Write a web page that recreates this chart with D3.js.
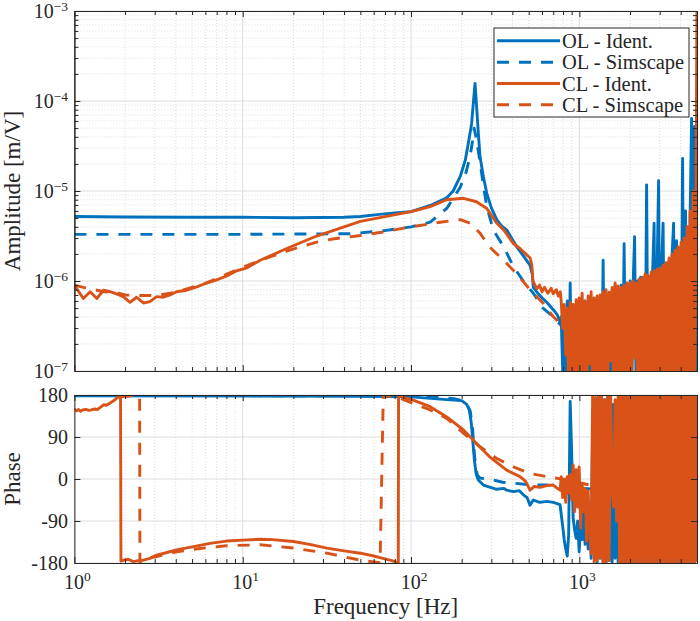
<!DOCTYPE html>
<html><head><meta charset="utf-8">
<script src="https://cdn.jsdelivr.net/npm/d3@7"></script>
<style>
body{margin:0;background:#fff}
svg{display:block}
text{font-family:"Liberation Serif","Times New Roman",serif;fill:#262626}
</style>
</head><body>
<svg id="chart" width="700" height="621"></svg>
<script>
// ---------------- data ----------------
const seriesNames = ["OL - Ident.", "OL - Simscape", "CL - Ident.", "CL - Simscape"];
const xTickValues = [1, 10, 100, 1000];
const xTickExps = ["0", "1", "2", "3"];
const ampTickValues = [1e-3, 1e-4, 1e-5, 1e-6, 1e-7];
const ampTickExps = ["\u22123", "\u22124", "\u22125", "\u22126", "\u22127"];
const phaseTickValues = [180, 90, 0, -90, -180];
const phaseTickLabels = ["180", "90", "0", "-90", "-180"];

// amplitude [f, |G|]
const olIdentMag = [[1,5.2e-6],[2,5.15e-6],[5,5.1e-6],[10,5.1e-6],[20,5.05e-6],[40,5.1e-6],[50,5.2e-6],[65,5.5e-6],[80,5.7e-6],[100,5.9e-6],[130,6.9e-6],[163,8.4e-6],[178,1.0e-5],[196,1.45e-5],[210,2.2e-5],[219,3.4e-5],[229,5.6e-5],[235,1.0e-4],[240,1.57e-4],[246,7.9e-5],[251,4.4e-5],[257,2.4e-5],[269,1.45e-5],[282,9.4e-6],[300,6.5e-6],[323,4.8e-6],[345,4.1e-6],[370,3.7e-6],[400,2.9e-6],[425,2.4e-6],[465,1.9e-6],[509,1.5e-6],[525,1.2e-6],[533,8.5e-7],[560,7.5e-7],[600,6.5e-7],[640,5.8e-7],[700,4.8e-7],[740,4.2e-7],[768,3.5e-7]];
const olSimMag = [[1,3.3e-6],[10,3.3e-6],[43,3.35e-6],[68,3.6e-6],[100,4.0e-6],[130,4.5e-6],[163,6.4e-6],[196,1.1e-5],[212,1.6e-5],[224,2.4e-5],[232,3.6e-5],[237,5.0e-5],[243,4.0e-5],[250,2.9e-5],[257,2.1e-5],[270,1.1e-5],[282,6.7e-6],[308,3.7e-6],[355,2.4e-6],[406,1.44e-6],[465,1.0e-6],[533,7.3e-7],[608,5.0e-7],[700,4.0e-7],[780,3.2e-7]];
const clIdentMag = [[1.0,9e-7],[1.13,6.4e-7],[1.24,7.6e-7],[1.36,6.4e-7],[1.49,7.9e-7],[1.63,7.6e-7],[1.78,7.2e-7],[1.95,6.7e-7],[2.14,5.8e-7],[2.34,6.6e-7],[2.57,5.7e-7],[2.81,5.9e-7],[3.08,6.7e-7],[3.37,6.6e-7],[3.70,7.0e-7],[4.05,7.6e-7],[4.65,7.9e-7],[5.33,8.6e-7],[6.11,9.5e-7],[7.01,1.03e-6],[8.04,1.14e-6],[9.22,1.3e-6],[10.6,1.4e-6],[12.7,1.7e-6],[19,2.37e-6],[27.5,3.16e-6],[50,4.6e-6],[100,5.9e-6],[130,6.7e-6],[163,8.0e-6],[205,8.3e-6],[245,7.6e-6],[282,6.4e-6],[323,4.4e-6],[355,3.7e-6],[406,2.6e-6],[444,2.3e-6],[480,2.0e-6],[510,1.8e-6],[522,1.5e-6],[530,1.0e-6],[545,9e-7],[560,8.2e-7],[580,9e-7],[600,7.6e-7],[620,8.5e-7],[650,7.3e-7],[680,8.3e-7],[700,7.2e-7],[730,8e-7],[750,6.8e-7],[770,7.6e-7]];
const clSimMag = [[1,9e-7],[1.13,8.5e-7],[1.5,7.6e-7],[1.8,7.4e-7],[2.0,7.0e-7],[2.35,6.9e-7],[2.7,6.9e-7],[3.1,6.9e-7],[4,7.5e-7],[6,9.4e-7],[10,1.42e-6],[14.5,1.85e-6],[19,2.2e-6],[27.5,2.7e-6],[35,2.95e-6],[50,3.2e-6],[68,3.5e-6],[100,4.0e-6],[149,4.5e-6],[196,4.8e-6],[224,4.4e-6],[257,3.4e-6],[292,2.4e-6],[355,1.7e-6],[425,1.2e-6],[509,8e-7],[608,5.7e-7],[700,4e-7],[780,3.3e-7]];

// phase [f, deg]
const olIdentPh = [[1,178.5],[10,178],[50,177],[100,176],[163,170],[200,168],[214,160],[222,148],[228,120],[233,80],[238,40],[244,10],[251,-2],[269,-13],[323,-22],[355,-20],[370,-24],[406,-27],[440,-25],[465,-34],[490,-40],[509,-56],[533,-45],[580,-50],[640,-48],[700,-50],[768,-55]];
const olSimPh = [[1,179.5],[50,178],[100,177],[150,175],[180,172],[200,168],[215,160],[225,145],[232,110],[237,60],[242,25],[248,8],[257,2],[290,0],[350,-7],[406,-9],[500,-12],[640,-13],[768,-16],[1000,-20],[1300,-22]];
const clIdentPh = [[1,150],[1.03,146],[1.06,149],[1.09,145],[1.12,148],[1.17,149],[1.22,147],[1.26,148],[1.32,150],[1.37,149],[1.42,153],[1.49,159],[1.55,158],[1.63,163],[1.7,167],[1.78,173],[1.84,176],[1.88,179.5],[1.89,-176],[1.95,-174],[2.09,-172],[2.24,-177],[2.4,-175],[2.57,-174],[2.81,-170],[3.08,-163],[3.5,-158],[4.05,-152],[5.1,-145],[6.4,-138],[8,-133],[10,-131],[12.7,-129],[15,-130],[20,-134],[25,-140],[31.6,-148],[40,-154],[50,-159],[60,-165],[68,-170],[77,-175],[84,-179.5],[84.3,180],[92,174],[103,169],[130,155],[163,133],[205,105],[245,76],[292,48],[370,19],[444,5],[480,-5],[509,-24],[540,-16],[583,-18],[640,-14],[700,-13],[740,-20],[770,-24]];
const clSimPh = [[1.9,176],[2.2,179],[2.44,179.8],[2.45,-179.5],[2.7,-171],[3.08,-166],[4.05,-156],[5.57,-149],[8,-143],[12.7,-141],[20,-148],[31.6,-159],[50,-174],[65.5,-179.5],[68.4,180],[86,173],[130,148],[163,130],[205,98],[257,69],[323,44],[406,26],[509,12],[640,5],[842,-2],[1000,-8],[1158,-13],[1300,-16]];

// high-frequency (noisy) part, shared frequency grid
const fHi = [780,796,813,830,847,864,882,900,919,938,957,977,997,1018,1039,1060,1082,1105,1128,1151,1175,1199,1224,1249,1275,1302,1329,1356,1384,1413,1442,1472,1503,1534,1566,1598,1631,1665,1699,1734,1770,1807,1845,1883,1922,1962,2002,2044,2086,2129,2174,2219,2265,2312,2359,2408,2458,2509,2561,2614,2668,2724,2780,2838,2897,2957,3018,3080,3144,3209,3276,3344,3413,3484,3556,3630,3705,3782,3860,3940,4022,4105,4190,4277,4366,4456,4549,4643,4739,4838,4938,5000];
const clIdentMagHi = [6.0e-7,3e-7,5.5e-7,1.5e-7,5.0e-7,6e-8,5.8e-7,8e-8,5.5e-7,5e-8,6.2e-7,7e-8,6.5e-7,5e-8,7.3e-7,9e-8,6e-7,5e-8,6.8e-7,1.2e-7,7.6e-7,5e-8,6.5e-7,5e-8,6.8e-7,6e-8,7e-7,5e-8,7.5e-7,6e-8,8e-7,5e-8,7.5e-7,1.3e-7,8.5e-7,5e-8,9.5e-7,5e-8,8.8e-7,6e-8,8.5e-7,5e-8,9e-7,5e-8,9.5e-7,6e-8,9.5e-7,5e-8,1.0e-6,1.4e-7,9.5e-7,5e-8,1.05e-6,5e-8,1.1e-6,5e-8,1.2e-6,6e-8,1.15e-6,5e-8,1.25e-6,5e-8,1.3e-6,6e-8,1.35e-6,5e-8,1.4e-6,5e-8,1.5e-6,5e-8,1.6e-6,6e-8,1.8e-6,5e-8,2.0e-6,5e-8,2.2e-6,5e-8,2.4e-6,5e-8,2.7e-6,5e-8,3.0e-6,6e-8,4.0e-6,5e-8,6e-6,5e-8,1e-5,5e-8,1.5e-5,1.5e-3];
const olIdentMagHi = [4e-7,1e-7,3e-7,5e-8,6e-7,5e-8,9.5e-7,6e-8,4e-7,5e-8,5e-7,5e-8,6e-7,5e-8,5e-7,5e-8,6e-7,5e-8,5e-7,5e-8,6e-7,5e-8,5e-7,5e-8,6e-7,5e-8,6e-7,5e-8,1.7e-6,5e-8,7e-7,5e-8,7e-7,5e-8,8e-7,5e-8,9e-7,5e-8,8e-7,5e-8,9e-7,5e-8,2.6e-6,5e-8,9e-7,5e-8,1e-6,5e-8,9e-7,3.1e-6,5e-8,1e-6,5e-8,1.1e-6,5e-8,1.1e-6,5e-8,1.17e-5,5e-8,1.1e-6,5e-8,1.2e-6,4.4e-6,5e-8,1.3e-6,1.3e-5,5e-8,1.4e-6,4.4e-6,5e-8,1.5e-6,5e-8,1.7e-6,5e-8,1.9e-6,4.4e-6,5e-8,2.8e-6,5e-8,2.3e-6,5e-8,2.3e-5,5e-8,6e-6,5e-8,5e-8,5e-6,6.4e-5,5e-8,5.2e-5,5e-8,5e-8];
const clIdentPhHi = [5,-40,0,-50,5,-30,10,-45,30,-70,20,-60,26,-105,-10,-70,-20,-134,-25,-110,-160,178,-178,175,-175,178,-170,178,-178,170,-178,178,-175,178,-20,-60,170,-90,180,-178,178,-178,178,-178,178,-178,178,-178,178,-178,178,-178,178,-178,178,-178,178,-178,178,-178,178,-178,178,-178,178,-178,178,-178,178,-178,178,-178,178,-178,178,-178,178,-178,178,-178,178,-178,178,-178,178,-178,178,-178,178,-178,178,-178];
const olIdentPhHi = [-75,-101,-130,-150,-165,-120,166,58,-84,-110,-127,-90,-156,-100,-130,-70,-140,-60,-150,-80,-170,120,-150,170,-178,175,-170,178,-178,170,-178,178,-175,178,-178,160,-170,150,-178,178,-178,178,-178,178,-178,178,-178,178,-178,178,-178,178,-178,178,-178,178,-178,178,-178,178,-178,178,-178,178,-178,178,-178,178,-178,178,-178,178,-178,178,-178,178,-178,178,-178,178,-178,178,-178,178,-178,178,-178,178,-178,178];

// ---------------- chart ----------------
const C_BLUE = "#0072BD", C_ORANGE = "#D95319", AX = "#262626";
const LW = 2.9, DASH = "12,10";
const svg = d3.select("#chart");
const left = 74.4, right = 697;
const topA = 11, botA = 371, topP = 395, botP = 563;

const x = d3.scaleLog().domain([1, 5000]).range([left, right]);
const yA = d3.scaleLog().domain([1e-7, 1e-3]).range([botA, topA]);
const yP = d3.scaleLinear().domain([-180, 180]).range([botP, topP]);

const withHi = (lo, hi) => lo.concat(fHi.map((f, i) => [f, hi[i]]));
const ampSeries = [
  {data: withHi(olIdentMag, olIdentMagHi), color: C_BLUE, dash: null},
  {data: olSimMag, color: C_BLUE, dash: DASH},
  {data: withHi(clIdentMag, clIdentMagHi), color: C_ORANGE, dash: null},
  {data: clSimMag, color: C_ORANGE, dash: DASH}
];
const phSeries = [
  {data: withHi(olIdentPh, olIdentPhHi), color: C_BLUE, dash: null},
  {data: olSimPh, color: C_BLUE, dash: DASH},
  {data: withHi(clIdentPh, clIdentPhHi), color: C_ORANGE, dash: null},
  {data: clSimPh, color: C_ORANGE, dash: DASH}
];

const xAll = x.ticks();
const xMinor = xAll.filter(v => !xTickValues.includes(v));

function panel(y, y0, y1, yMajor, yMinor, series, id) {
  const g = svg.append("g");
  g.selectAll(".mgx").data(xMinor).enter().append("line")
    .attr("x1", d => x(d)).attr("x2", d => x(d)).attr("y1", y0).attr("y2", y1)
    .attr("stroke", "#d2d2d2").attr("stroke-width", 0.8).attr("stroke-dasharray", "1,2");
  g.selectAll(".mgy").data(yMinor).enter().append("line")
    .attr("x1", left).attr("x2", right).attr("y1", d => y(d)).attr("y2", d => y(d))
    .attr("stroke", "#d2d2d2").attr("stroke-width", 0.8).attr("stroke-dasharray", "1,2");
  g.selectAll(".gx").data(xTickValues).enter().append("line")
    .attr("x1", d => x(d)).attr("x2", d => x(d)).attr("y1", y0).attr("y2", y1)
    .attr("stroke", "#dcdcdc").attr("stroke-width", 1);
  g.selectAll(".gy").data(yMajor).enter().append("line")
    .attr("x1", left).attr("x2", right).attr("y1", d => y(d)).attr("y2", d => y(d))
    .attr("stroke", "#dcdcdc").attr("stroke-width", 1);
  svg.append("clipPath").attr("id", id).append("rect")
    .attr("x", left).attr("y", y0).attr("width", right - left).attr("height", y1 - y0);
  const line = d3.line().x(d => x(d[0])).y(d => y(d[1]));
  const lg = g.append("g").attr("clip-path", `url(#${id})`);
  series.forEach(s => {
    lg.append("path").attr("d", line(s.data)).attr("fill", "none")
      .attr("stroke", s.color).attr("stroke-width", LW)
      .attr("stroke-linejoin", "round")
      .attr("stroke-dasharray", s.dash);
  });
  const style = sel => { sel.selectAll("path,line").attr("stroke", AX); sel.selectAll("text").remove(); };
  const mk = (ax, tr) => g.append("g").attr("transform", tr).call(ax).call(style);
  mk(d3.axisBottom(x).tickValues(xTickValues).tickSizeInner(-6).tickSizeOuter(0), `translate(0,${y1})`);
  mk(d3.axisBottom(x).tickValues(xMinor).tickSizeInner(-4).tickSizeOuter(0), `translate(0,${y1})`);
  mk(d3.axisTop(x).tickValues(xTickValues).tickSizeInner(-6).tickSizeOuter(0), `translate(0,${y0})`);
  mk(d3.axisTop(x).tickValues(xMinor).tickSizeInner(-4).tickSizeOuter(0), `translate(0,${y0})`);
  mk(d3.axisLeft(y).tickValues(yMajor).tickSizeInner(-6).tickSizeOuter(0), `translate(${left},0)`);
  mk(d3.axisRight(y).tickValues(yMajor).tickSizeInner(-6).tickSizeOuter(0), `translate(${right},0)`);
  if (yMinor.length) {
    mk(d3.axisLeft(y).tickValues(yMinor).tickSizeInner(-4).tickSizeOuter(0), `translate(${left},0)`);
    mk(d3.axisRight(y).tickValues(yMinor).tickSizeInner(-4).tickSizeOuter(0), `translate(${right},0)`);
  }
  return g;
}

const ampMinor = yA.ticks().filter(v => !ampTickValues.some(m => Math.abs(m - v) / m < 1e-6));
panel(yA, topA, botA, ampTickValues, ampMinor, ampSeries, "clipA");
panel(yP, topP, botP, phaseTickValues, [], phSeries, "clipP");

// tick labels
const FS = 20, FSUP = 13.5;
ampTickValues.forEach((v, i) => {
  const t = svg.append("text").attr("x", 68).attr("y", yA(v) + 6.5).attr("text-anchor", "end").attr("font-size", FS);
  t.append("tspan").text("10");
  t.append("tspan").attr("dy", -7).attr("font-size", FSUP).text(ampTickExps[i]);
});
phaseTickValues.forEach((v, i) => {
  svg.append("text").attr("x", 68).attr("y", yP(v) + 6.5).attr("text-anchor", "end")
    .attr("font-size", FS).text(phaseTickLabels[i]);
});
xTickValues.forEach((v, i) => {
  const t = svg.append("text").attr("x", x(v) + 3).attr("y", 589).attr("text-anchor", "middle").attr("font-size", FS);
  t.append("tspan").text("10");
  t.append("tspan").attr("dy", -8).attr("font-size", FSUP).text(xTickExps[i]);
});

// axis labels
svg.append("text").attr("transform", `translate(20,${(topA + botA) / 2}) rotate(-90)`)
  .attr("text-anchor", "middle").attr("font-size", 23).text("Amplitude [m/V]");
svg.append("text").attr("transform", `translate(20,${(topP + botP) / 2}) rotate(-90)`)
  .attr("text-anchor", "middle").attr("font-size", 23).text("Phase");
svg.append("text").attr("x", (left + right) / 2).attr("y", 614)
  .attr("text-anchor", "middle").attr("font-size", 23).text("Frequency [Hz]");

// legend
const lgx = 494, lgy = 28, lgw = 195, lgh = 89;
const leg = svg.append("g");
leg.append("rect").attr("x", lgx).attr("y", lgy).attr("width", lgw).attr("height", lgh)
  .attr("fill", "#fff").attr("stroke", AX).attr("stroke-width", 1);
const rowY = [40.7, 62.3, 83.5, 104.7];
ampSeries.forEach((s, i) => {
  leg.append("line").attr("x1", 497).attr("x2", 560).attr("y1", rowY[i]).attr("y2", rowY[i])
    .attr("stroke", s.color).attr("stroke-width", LW).attr("stroke-dasharray", s.dash);
  leg.append("text").attr("x", 562).attr("y", rowY[i] + 7).attr("font-size", 20.5).text(seriesNames[i]);
});
</script>
</body></html>
